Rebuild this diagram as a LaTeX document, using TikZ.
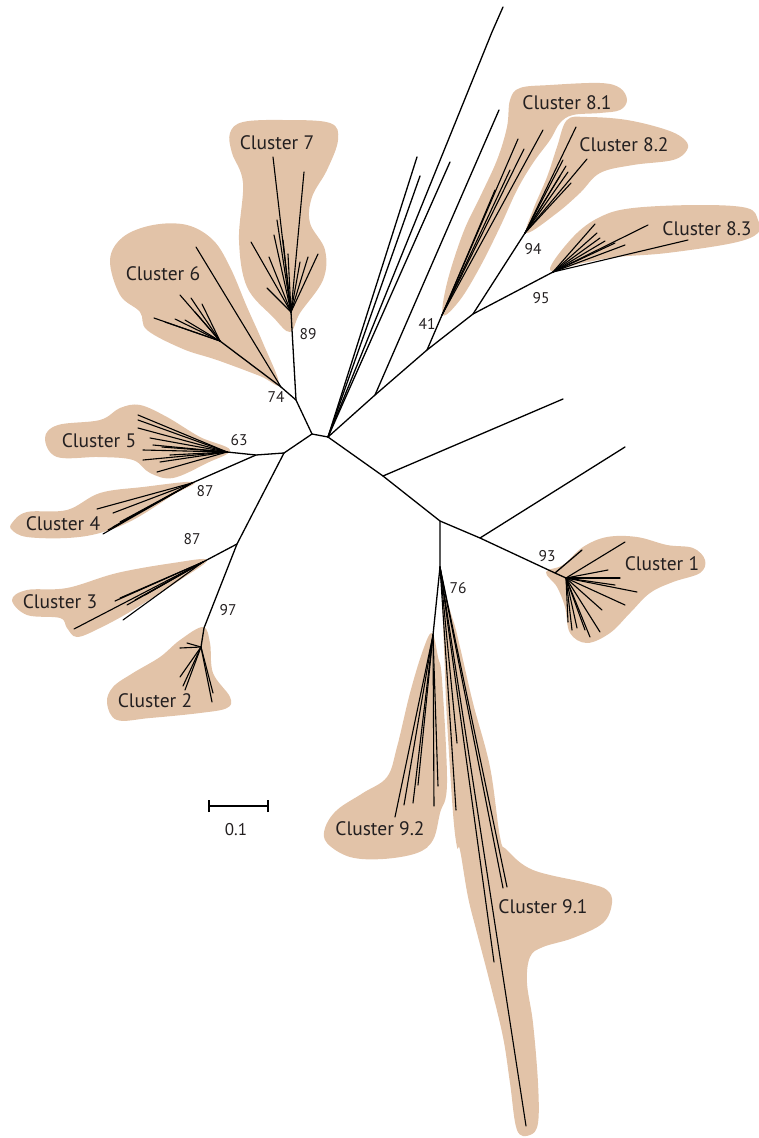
\documentclass[tikz,border=0pt]{standalone}
\usepackage{fontspec}
\setmainfont{PT Sans}
\begin{document}
\begin{tikzpicture}[x=1pt,y=-1pt,
  blob/.style={fill=blobcol},
  br/.style={line width=1.3pt,line cap=round,line join=round},
  lf/.style={line width=1.1pt,line cap=round},
  clab/.style={text=txtcol,font=\fontsize{19.5}{20}\selectfont,inner sep=0pt},
  blab/.style={text=txtcol,font=\fontsize{15.5}{16}\selectfont,inner sep=0pt}]
\definecolor{blobcol}{RGB}{226,195,168}
\definecolor{txtcol}{RGB}{35,31,32}
\useasboundingbox (0,0) rectangle (758,1138);
% ---------- blobs ----------
\fill[blob] plot[smooth cycle,tension=0.6] coordinates {(230,133) (243,122) (283,120) (330,123) (338,140) (327,170) (312,197) (310,223) (325,250) (323,280) (300,313) (290,332) (273,317) (247,287) (239,240) (243,183) (232,153)};
\fill[blob] plot[smooth cycle,tension=0.6] coordinates {(110,260) (123,237) (153,225) (187,225) (213,240) (230,267) (247,307) (263,343) (279,384) (260,376) (217,360) (183,349) (147,330) (140,312) (120,295)};
\fill[blob] plot[smooth cycle,tension=0.6] coordinates {(45,438) (58,425) (100,420) (120,408) (140,405) (167,417) (200,437) (230,450) (207,463) (173,478) (150,473) (133,460) (100,457) (57,457)};
\fill[blob] plot[smooth cycle,tension=0.6] coordinates {(12,523) (27,512) (67,510) (100,493) (143,487) (194,482) (173,495) (133,520) (100,533) (67,538) (27,537) (12,530)};
\fill[blob] plot[smooth cycle,tension=0.6] coordinates {(12,600) (27,590) (67,588) (117,573) (173,563) (207,560) (180,580) (133,610) (100,628) (77,637) (67,628) (60,618) (27,615)};
\fill[blob] plot[smooth cycle,tension=0.6] coordinates {(107,703) (113,687) (133,673) (160,657) (180,640) (203,627) (210,643) (213,673) (230,697) (227,708) (200,713) (150,718) (117,720)};
\fill[blob] plot[smooth cycle,tension=0.6] coordinates {(546,572) (563,565) (583,547) (607,537) (637,537) (667,545) (693,548) (705,560) (700,573) (673,582) (650,593) (630,613) (610,633) (587,643) (570,633) (565,607) (557,587)};
\fill[blob] plot[smooth cycle,tension=0.6] coordinates {(325,828) (337,810) (363,793) (387,777) (397,747) (410,693) (423,650) (432,633) (438,657) (442,680) (447,783) (440,813) (433,840) (417,853) (383,859) (350,857) (327,843)};
\fill[blob] plot[smooth cycle,tension=0.6] coordinates {(443,597) (453,620) (460,647) (473,703) (490,767) (500,837) (507,850) (533,870) (587,883) (607,890) (612,903) (603,923) (573,938) (543,947) (530,957) (527,983) (533,1023) (538,1083) (538,1123) (530,1135) (517,1130) (510,1083) (503,1037) (490,983) (477,933) (468,897) (460,850) (457,847) (453,813) (447,720) (445,673)};
\fill[blob] plot[smooth cycle,tension=0.6] coordinates {(510,100) (520,88) (550,85) (600,83) (620,88) (627,100) (620,110) (600,113) (573,115) (560,123) (550,140) (533,163) (517,190) (500,227) (480,267) (460,300) (443,315) (447,283) (463,233) (480,197) (497,160) (507,127)};
\fill[blob] plot[smooth cycle,tension=0.6] coordinates {(567,120) (587,117) (627,120) (667,130) (685,140) (687,150) (673,160) (633,165) (600,173) (580,193) (557,213) (527,233) (533,210) (547,177) (557,147)};
\fill[blob] plot[smooth cycle,tension=0.6] coordinates {(550,270) (573,237) (600,217) (633,208) (700,205) (747,208) (758,220) (758,233) (733,243) (667,253) (617,257) (583,263)};
% ---------- internal nodes ----------
\coordinate (A) at (312,434);
\coordinate (B) at (328,437);
\coordinate (N74) at (296,400);
\coordinate (C6) at (281,387);
\coordinate (S6) at (220,341);
\coordinate (C7) at (291,312);
\coordinate (C) at (284,453);
\coordinate (N63) at (256,455);
\coordinate (C5) at (227,452);
\coordinate (C4) at (192,483);
\coordinate (D) at (237,544);
\coordinate (C3) at (203,562);
\coordinate (C2) at (204,628);
\coordinate (S2) at (201,647);
\coordinate (E) at (383,476);
\coordinate (F) at (440,521);
\coordinate (G) at (480,538);
\coordinate (H) at (555,573);
\coordinate (I) at (566,578);
\coordinate (J) at (440,567);
\coordinate (N92) at (433,635);
\coordinate (K) at (375,395);
\coordinate (L) at (427,350);
\coordinate (M) at (473,314);
\coordinate (C81) at (442,315);
\coordinate (C82) at (525,233);
\coordinate (C83) at (553,272);
% ---------- backbone ----------
\draw[br] (N74) -- (A) -- (B);
\draw[br] (A) -- (C);
\draw[br] (N74) -- (C7);
\draw[br] (N74) -- (C6);
\draw[br] (C) -- (N63) -- (C5);
\draw[br] (N63) -- (C4);
\draw[br] (C) -- (D) -- (C3);
\draw[br] (D) -- (C2) -- (S2);
\draw[br] (B) -- (E) -- (F) -- (G) -- (H) -- (I);
\draw[br] (F) -- (J) -- (N92);
\draw[br] (B) -- (K) -- (L) -- (M) -- (C83);
\draw[br] (L) -- (C81);
\draw[br] (M) -- (C82);
% long unclustered branches
\draw[br] (E) -- (563,399);
\draw[br] (G) -- (625,447);
\draw[br] (K) -- (499,110);
\draw[br] (B) -- (417,157);
\draw[br] (B) -- (420,176);
\draw[br] (B) -- (450,162);
\draw[br] (B) -- (492,32) -- (503,7);
\draw[br] (H) -- (582,550);
% ---------- leaves ----------
\foreach \p in {(273,157),(304,172),(251,242),(267,288),(318,254),(308,257),(269,257),(277,220),(288,254),(274,235),(300,262),(283,240)}
  \draw[lf] (C7) -- \p;
\draw[lf] (C6) -- (196,247);
\draw[br] (C6) -- (S6);
\foreach \p in {(154,318),(180,295),(191,298),(202,304),(175,319),(165,322),(195,312),(185,320)}
  \draw[lf] (S6) -- \p;
\foreach \p in {(138,415),(138,420),(138,428),(143,450),(143,460),(157,472),(153,445),(162,447),(150,438),(170,455),(160,462)}
  \draw[lf] (C5) -- \p;
\foreach \p in {(97,509),(113,513),(103,534),(113,527),(120,522),(108,530)}
  \draw[lf] (C4) -- \p;
\foreach \p in {(74,629),(115,601),(123,620),(127,605),(120,598),(135,600),(145,595)}
  \draw[lf] (C3) -- \p;
\foreach \p in {(212,702),(213,693),(183,686),(180,677),(180,648),(187,643),(185,690)}
  \draw[lf] (S2) -- \p;
\foreach \p in {(625,542),(637,592),(625,605),(602,610),(600,632),(590,637),(577,628),(568,622),(620,578),(608,570),(615,585),(585,630),(572,630)}
  \draw[lf] (I) -- \p;
\foreach \p in {(395,817),(404,805),(413,803),(418,785),(434,806),(438,786)}
  \draw[lf] (N92) -- \p;
\foreach \p in {(526,1126),(494,962),(503,888),(507,887),(457,743),(456,810)}
  \draw[lf] (J) -- \p;
\foreach \p in {(518,139),(524,149),(543,130),(495,190),(510,170)}
  \draw[lf] (C81) -- \p;
\foreach \p in {(576,127),(587,159),(571,183),(563,160),(566,166),(568,172),(560,176)}
  \draw[lf] (C82) -- \p;
\foreach \p in {(648,225),(688,240),(595,224),(597,233),(600,238),(605,241),(615,243),(625,245)}
  \draw[lf] (C83) -- \p;
% ---------- cluster labels ----------
\node[clab] (l7) at (277,143) {Cluster 7};
\node[clab] (l6) at (163,274) {Cluster 6};
\node[clab] (l5) at (99,441) {Cluster 5};
\node[clab] (l4) at (63,524) {Cluster 4};
\node[clab] (l3) at (60,602) {Cluster 3};
\node[clab] (l2) at (155,701) {Cluster 2};
\node[clab] (l1) at (662,564) {Cluster 1};
\node[clab] (l81) at (567,103) {Cluster 8.1};
\node[clab] (l82) at (624,145) {Cluster 8.2};
\node[clab] (l83) at (707,229) {Cluster 8.3};
\node[clab] (l92) at (380,829) {Cluster 9.2};
\node[clab] (l91) at (543,907) {Cluster 9.1};
% ---------- bootstrap labels ----------
\node[blab] (b89) at (308,334) {89};
\node[blab] (b74) at (276,397) {74};
\node[blab] (b63) at (239,440) {63};
\node[blab] (b87a) at (205,491) {87};
\node[blab] (b87b) at (192,539) {87};
\node[blab] (b97) at (228,610) {97};
\node[blab] (b93) at (547,556) {93};
\node[blab] (b76) at (458,588) {76};
\node[blab] (b41) at (427,324) {41};
\node[blab] (b94) at (533,249) {94};
\node[blab] (b95) at (541,298) {95};
% ---------- scale bar ----------
\coordinate (s1) at (209,806);
\coordinate (s2) at (268,806);
\draw[line width=1.3pt] (s1) -- (s2);
\draw[line width=1.3pt] ([yshift=-6]s1) -- ([yshift=6]s1);
\draw[line width=1.3pt] ([yshift=-6]s2) -- ([yshift=6]s2);
\node[text=txtcol,font=\fontsize{17}{18}\selectfont,inner sep=0pt] (sc) at (236,830) {0.1};
\end{tikzpicture}
\end{document}
